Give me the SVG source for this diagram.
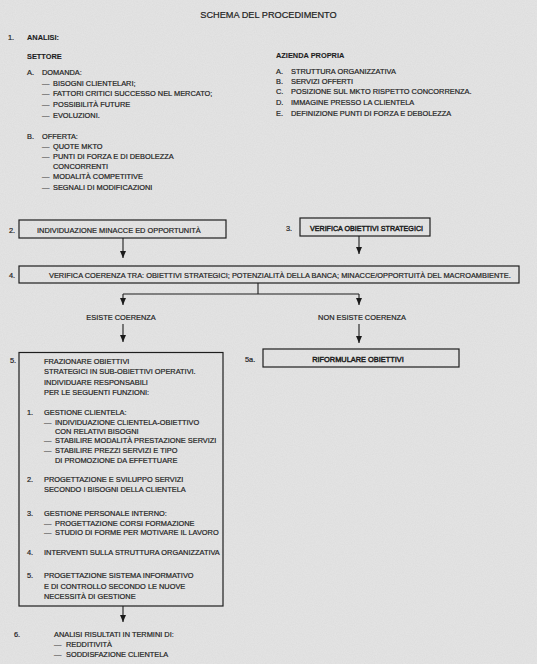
<svg xmlns="http://www.w3.org/2000/svg" width="537" height="664" viewBox="0 0 537 664">
<defs>
<marker id="ah" viewBox="0 0 7 6" refX="7" refY="3" markerWidth="7" markerHeight="6" markerUnits="userSpaceOnUse" orient="auto">
<path d="M0,0 L7,3 L0,6 Z" fill="#1a1a1a"/>
</marker>
<filter id="grain" x="0" y="0" width="100%" height="100%">
<feTurbulence type="fractalNoise" baseFrequency="0.9" numOctaves="2" seed="3"/>
<feColorMatrix type="matrix" values="0 0 0 0 0.5  0 0 0 0 0.5  0 0 0 0 0.5  0 0 0 -1.2 0.9"/>
</filter>
</defs>
<style>
text{font-family:"Liberation Sans",Arial,sans-serif;font-size:7.4px;fill:#1e1e1e;stroke:#1e1e1e;stroke-width:0.2px;}
.t{font-size:9.2px;}
.b{font-weight:bold;stroke-width:0.1px;}
.m{stroke-width:0.45px;}
.box{fill:none;stroke:#1e1e1e;stroke-width:1.2;}
.ln{fill:none;stroke:#1e1e1e;stroke-width:1.1;}
</style>
<rect x="0" y="0" width="537" height="664" fill="#e3e3e3"/>
<rect x="0" y="0" width="537" height="664" filter="url(#grain)" opacity="0.18"/>

<text class="t" x="268.5" y="18" text-anchor="middle">SCHEMA DEL PROCEDIMENTO</text>

<g id="analisi">
<text x="8" y="40">1.</text>
<text class="b" x="27" y="40">ANALISI:</text>
<text class="b" x="27" y="59">SETTORE</text>
<text x="27" y="75">A.</text><text x="42" y="75">DOMANDA:</text>
<text x="42" y="85.5">—</text><text x="53" y="85.5">BISOGNI CLIENTELARI;</text>
<text x="42" y="96">—</text><text x="53" y="96">FATTORI CRITICI SUCCESSO NEL MERCATO;</text>
<text x="42" y="107">—</text><text x="53" y="107">POSSIBILITÀ FUTURE</text>
<text x="42" y="117.5">—</text><text x="53" y="117.5">EVOLUZIONI.</text>
<text x="27" y="138.5">B.</text><text x="42" y="138.5">OFFERTA:</text>
<text x="42" y="149">—</text><text x="53" y="149">QUOTE MKTO</text>
<text x="42" y="159">—</text><text x="53" y="159">PUNTI DI FORZA E DI DEBOLEZZA</text>
<text x="53" y="169">CONCORRENTI</text>
<text x="42" y="179">—</text><text x="53" y="179">MODALITÀ COMPETITIVE</text>
<text x="42" y="189.5">—</text><text x="53" y="189.5">SEGNALI DI MODIFICAZIONI</text>
<text class="b" x="276" y="57.5">AZIENDA PROPRIA</text>
<text x="276" y="73.5">A.</text><text x="291" y="73.5">STRUTTURA ORGANIZZATIVA</text>
<text x="276" y="83.5">B.</text><text x="291" y="83.5">SERVIZI OFFERTI</text>
<text x="276" y="94">C.</text><text x="291" y="94">POSIZIONE SUL MKTO RISPETTO CONCORRENZA.</text>
<text x="276" y="105">D.</text><text x="291" y="105">IMMAGINE PRESSO LA CLIENTELA</text>
<text x="276" y="116">E.</text><text x="291" y="116">DEFINIZIONE PUNTI DI FORZA E DEBOLEZZA</text>
</g>

<g id="n2">
<text x="9" y="233">2.</text>
<rect class="box" x="19" y="220" width="207" height="18"/>
<text x="37" y="233">INDIVIDUAZIONE MINACCE ED OPPORTUNITÀ</text>
</g>

<g id="n3">
<text x="286" y="231">3.</text>
<rect class="box" x="300" y="218" width="130" height="18"/>
<text class="m" x="310" y="230.5" textLength="113" lengthAdjust="spacingAndGlyphs">VERIFICA OBIETTIVI STRATEGICI</text>
</g>

<g id="n4">
<text x="9" y="278">4.</text>
<rect class="box" x="19" y="266" width="500" height="17"/>
<text x="49" y="278">VERIFICA COERENZA TRA: OBIETTIVI STRATEGICI; POTENZIALITÀ DELLA BANCA; MINACCE/OPPORTUITÀ DEL MACROAMBIENTE.</text>
</g>

<g id="esiste">
<text x="121" y="319.5" text-anchor="middle">ESISTE COERENZA</text>
</g>
<g id="nonesiste">
<text x="362" y="319.5" text-anchor="middle">NON ESISTE COERENZA</text>
</g>

<g id="n5">
<text x="10" y="363">5.</text>
<rect class="box" x="19" y="352.5" width="204" height="253.5"/>
<text x="44" y="363.5">FRAZIONARE OBIETTIVI</text>
<text x="44" y="374">STRATEGICI IN SUB-OBIETTIVI OPERATIVI.</text>
<text x="44" y="384.5">INDIVIDUARE RESPONSABILI</text>
<text x="44" y="394.5">PER LE SEGUENTI FUNZIONI:</text>
<text x="27" y="415">1.</text><text x="44" y="415">GESTIONE CLIENTELA:</text>
<text x="44" y="424.5">—</text><text x="55" y="424.5">INDIVIDUAZIONE CLIENTELA-OBIETTIVO</text>
<text x="55" y="433.5">CON RELATIVI BISOGNI</text>
<text x="44" y="443">—</text><text x="55" y="443">STABILIRE MODALITÀ PRESTAZIONE SERVIZI</text>
<text x="44" y="453">—</text><text x="55" y="453">STABILIRE PREZZI SERVIZI E TIPO</text>
<text x="55" y="463">DI PROMOZIONE DA EFFETTUARE</text>
<text x="27" y="482">2.</text><text x="44" y="482">PROGETTAZIONE E SVILUPPO SERVIZI</text>
<text x="44" y="492">SECONDO I BISOGNI DELLA CLIENTELA</text>
<text x="27" y="516">3.</text><text x="44" y="516">GESTIONE PERSONALE INTERNO:</text>
<text x="44" y="525.5">—</text><text x="55" y="525.5">PROGETTAZIONE CORSI FORMAZIONE</text>
<text x="44" y="535">—</text><text x="55" y="535">STUDIO DI FORME PER MOTIVARE IL LAVORO</text>
<text x="27" y="554.5">4.</text><text x="44" y="554.5">INTERVENTI SULLA STRUTTURA ORGANIZZATIVA</text>
<text x="27" y="577.5">5.</text><text x="44" y="577.5">PROGETTAZIONE SISTEMA INFORMATIVO</text>
<text x="44" y="588.5">E DI CONTROLLO SECONDO LE NUOVE</text>
<text x="44" y="599">NECESSITÀ DI GESTIONE</text>
</g>

<g id="n5a">
<text x="245" y="361.5">5a.</text>
<rect class="box" x="263" y="349" width="196" height="18"/>
<text class="m" x="358" y="361.5" text-anchor="middle">RIFORMULARE OBIETTIVI</text>
</g>

<g id="n6">
<text x="14" y="637">6.</text>
<text x="54" y="637">ANALISI RISULTATI IN TERMINI DI:</text>
<text x="54" y="647">—</text><text x="66" y="647">REDDITIVITÀ</text>
<text x="54" y="657">—</text><text x="66" y="657">SODDISFAZIONE CLIENTELA</text>
</g>

<g id="connectors">
<line class="ln" x1="123" y1="238" x2="123" y2="258" marker-end="url(#ah)"/>
<line class="ln" x1="359" y1="236" x2="359" y2="254" marker-end="url(#ah)"/>
<polyline class="ln" points="258,283 258,294"/>
<polyline class="ln" points="123,294 359,294"/>
<line class="ln" x1="123" y1="294" x2="123" y2="305" marker-end="url(#ah)"/>
<line class="ln" x1="359" y1="294" x2="359" y2="305" marker-end="url(#ah)"/>
<line class="ln" x1="123" y1="324" x2="123" y2="342" marker-end="url(#ah)"/>
<line class="ln" x1="359" y1="324" x2="359" y2="343" marker-end="url(#ah)"/>
<line class="ln" x1="123" y1="606" x2="123" y2="622" marker-end="url(#ah)"/>
</g>
</svg>
